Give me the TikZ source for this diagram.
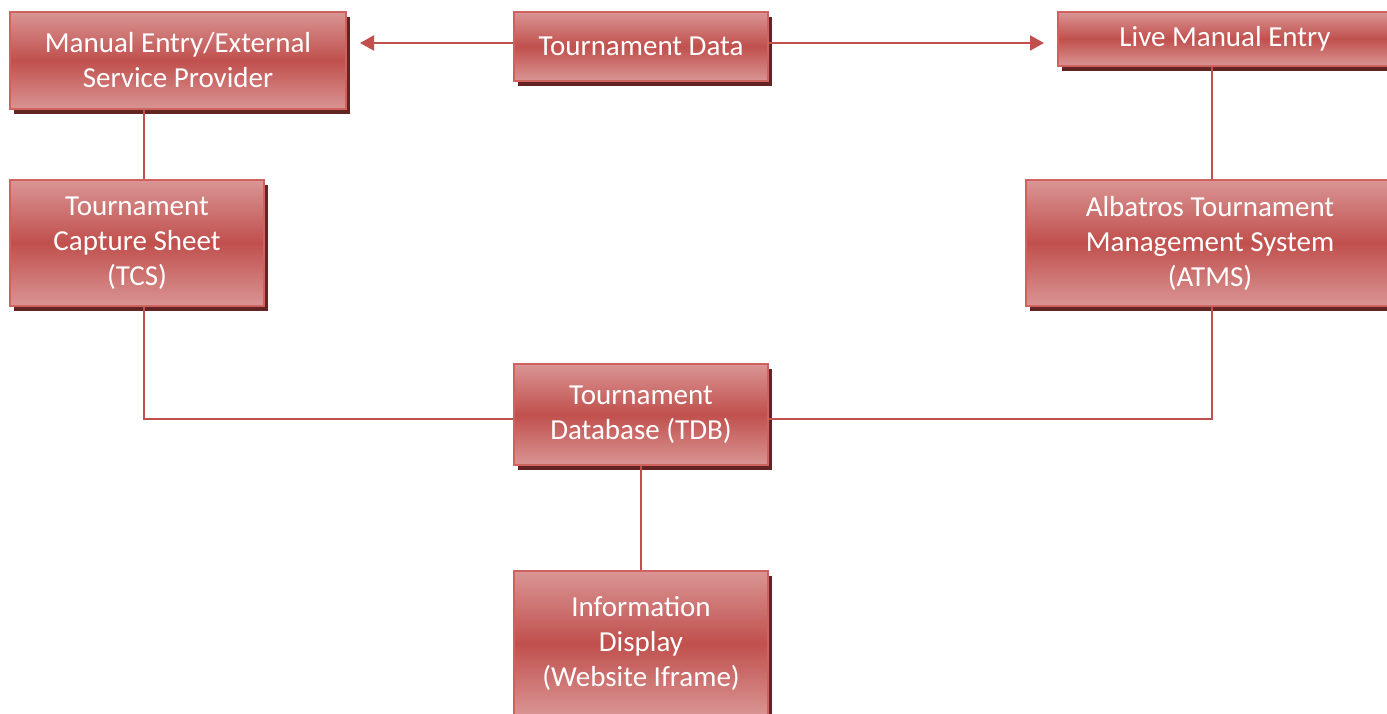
\documentclass[tikz,border=0pt]{standalone}
\usepackage{fontspec}
\setmainfont{Carlito}
\usetikzlibrary{shadows,arrows.meta}

\definecolor{boxred}{RGB}{192,80,77}
\definecolor{boxpink}{RGB}{217,149,148}
\definecolor{boxedge}{RGB}{205,98,95}
\definecolor{shadowred}{RGB}{99,37,35}

\tikzset{
  blockbox/.style={draw=boxedge, line width=1pt, top color=boxpink, bottom color=boxpink,
    middle color=boxred, text=white, align=center, inner sep=0pt,
    font=\fontsize{14.5}{17.5}\selectfont,
    drop shadow={shadow xshift=1.75pt, shadow yshift=-2.25pt, fill=shadowred, opacity=1}},
  link/.style={draw=boxred, line width=1pt},
  flow/.style={link, -{Triangle[length=7pt,width=7.5pt]}, shorten >=6.5pt}
}

\begin{document}
\begin{tikzpicture}[x=0.5pt,y=-0.5pt]
\useasboundingbox (0,0) rectangle (1387,713);
\clip (0,0) rectangle (1387,713);

% bus lines
\coordinate (leftbus) at (144,0);
\coordinate (rightbus) at (1212,0);
\coordinate (toprow) at (0,43);
\coordinate (lowrow) at (0,419);

% Boxes
\node [blockbox, minimum width=168pt, minimum height=48.5pt] (manual) at (178,60.5) {Manual Entry/External\\Service Provider};
\node [blockbox, minimum width=127pt, minimum height=34.5pt] (data) at (641,46.5) {Tournament Data};
\node [blockbox, minimum width=167pt, minimum height=27pt] (live) at (1225,39) {Live Manual Entry};
\node [blockbox, minimum width=127pt, minimum height=63pt] (tcs) at (137,243) {Tournament\\Capture Sheet\\(TCS)};
\node [blockbox, minimum width=184pt, minimum height=63pt] (atms) at (1210,243) {Albatros Tournament\\Management System\\(ATMS)};
\node [blockbox, minimum width=127pt, minimum height=50.5pt] (tdb) at (641,414.5) {Tournament\\Database (TDB)};
\node [blockbox, minimum width=127pt, minimum height=72.5pt] (info) at (641,643.5) {Information\\Display\\(Website Iframe)};

% Connectors
\draw [flow] (data.west |- toprow) -- (manual.east |- toprow);
\draw [flow] (data.east |- toprow) -- (live.west |- toprow);
\draw [link] (manual.south -| leftbus) -- (tcs.north -| leftbus);
\draw [link] (live.south -| rightbus) -- (atms.north -| rightbus);
\draw [link] (tcs.south -| leftbus) |- (tdb.west |- lowrow);
\draw [link] (atms.south -| rightbus) |- (tdb.east |- lowrow);
\draw [link] (tdb.south) -- (info.north);

\end{tikzpicture}
\end{document}
